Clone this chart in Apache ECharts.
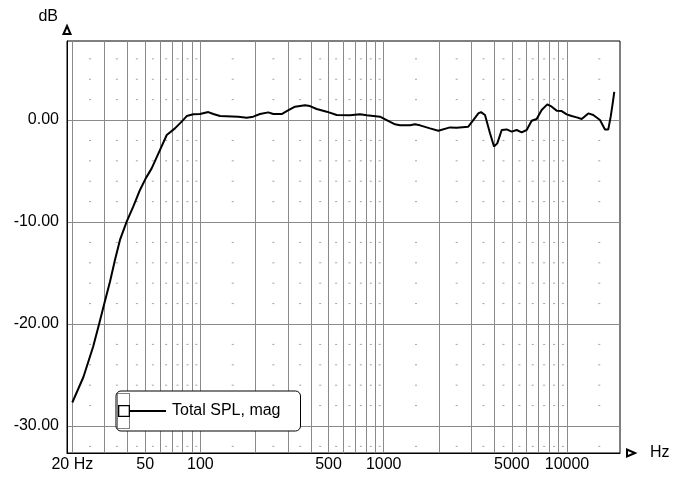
<!DOCTYPE html>
<html>
<head>
<meta charset="utf-8">
<script src="https://cdn.jsdelivr.net/npm/echarts@6/dist/echarts.min.js"></script>
<style>
  html, body { margin: 0; padding: 0; background: #fff; }
  #chart { width: 683px; height: 486px; }
</style>
</head>
<body>
<div id="chart"></div>
<script>
// measured response, frequency in Hz
const freqHz = [
  20, 23, 26, 28.1, 29.9, 32.1, 34.2, 36.4, 39.6, 43, 46.8, 50.3, 54.2, 59.6, 65.5,
  72.6, 79, 84.2, 91.4, 99.5, 110.4, 117.6, 127.9, 160.9, 178.8, 194.2, 211.3, 234.6,
  249.8, 277.7, 295.6, 328, 372, 396, 430.7, 488.7, 553.8, 654.7, 742.4, 807.4, 954.4,
  1038, 1152, 1227, 1391, 1481, 1577, 1789, 1985, 2300, 2501, 2893, 3081, 3282, 3394,
  3569, 3801, 3997, 4165, 4403, 4687, 4990, 5313, 5657, 6024, 6414, 6829, 7274, 7807,
  8251, 8786, 9355, 9960, 10603, 11293, 12025, 13063, 13911, 15131, 16113, 16796,
  17310, 17750, 18109,
];
const splDb = [
  -27.7, -25.2, -22.2, -19.9, -18.0, -15.85, -13.7, -11.76, -9.97, -8.5, -6.86, -5.72,
  -4.74, -3.1, -1.47, -0.82, -0.16, 0.39, 0.56, 0.59, 0.78, 0.59, 0.39, 0.33, 0.23,
  0.33, 0.59, 0.75, 0.59, 0.59, 0.88, 1.31, 1.44, 1.37, 1.08, 0.82, 0.49, 0.46, 0.56,
  0.46, 0.33, 0, -0.42, -0.52, -0.52, -0.42, -0.52, -0.82, -1.05, -0.72, -0.75, -0.65,
  0, 0.65, 0.78, 0.49, -1.3, -2.6, -2.29, -0.98, -0.92, -1.14, -0.98, -1.21, -0.98,
  -0.07, 0.1, 0.98, 1.54, 1.31, 0.92, 0.88, 0.56, 0.39, 0.26, 0.1, 0.65, 0.49, 0,
  -0.92, -0.92, 0.33, 1.63, 2.77,
];

// grid lines / labels of the frequency axis
const gridFreqs = [
  20, 30, 40, 50, 60, 70, 80, 90, 100, 200, 300, 400, 500, 600, 700, 800, 900,
  1000, 2000, 3000, 4000, 5000, 6000, 7000, 8000, 9000, 10000,
];
const labelFreqs = [20, 50, 100, 500, 1000, 5000, 10000];
const labelTexts = ["20 Hz", "50", "100", "500", "1000", "5000", "10000"];

// dotted minor grid
const dotFreqs = [
  25, 35, 45, 55, 65, 75, 85, 95, 150, 250, 350, 450, 550, 650, 750, 850, 950,
  1500, 2500, 3500, 4500, 5500, 6500, 7500, 8500, 9500, 15000,
];
const dotLevels = [-32, -28, -26, -24, -22, -18, -16, -14, -12, -8, -6, -4, -2, 2, 4, 6];

const seriesName = "Total SPL, mag";

const FONT = "Liberation Sans, Arial, sans-serif";
const GRID_GRAY = "#8a8a8a";

const chart = echarts.init(document.getElementById("chart"), null, { renderer: "canvas" });

const curve = freqHz.map((f, i) => [f, splDb[i]]);

const dots = [];
dotLevels.forEach((lv) => {
  dotFreqs.forEach((f) => dots.push([f, lv]));
});

const vLines = gridFreqs.map((f) => {
  const idx = labelFreqs.indexOf(f);
  return {
    xAxis: f,
    label: idx >= 0 ? { show: true, formatter: labelTexts[idx] } : { show: false },
  };
});

// legend icon: hollow square + line
const legendIcon =
  "path://M0,0 L12,0 L12,12 L0,12 Z M1.3,1.3 L1.3,10.7 L10.7,10.7 L10.7,1.3 Z M12,5 L48,5 L48,7 L12,7 Z";

const option = {
  backgroundColor: "#fff",
  animation: false,
  grid: {
    left: 67,
    right: 63,
    top: 41,
    bottom: 33,
    show: true,
    borderColor: "#000",
    borderWidth: 1,
    backgroundColor: "transparent",
  },
  legend: {
    data: [{ name: seriesName, icon: legendIcon }],
    left: 116,
    top: 391,
    orient: "vertical",
    itemWidth: 48,
    itemHeight: 12,
    itemGap: 0,
    padding: [12, 20, 12, 2],
    borderColor: "#000",
    borderWidth: 1,
    borderRadius: 5,
    backgroundColor: "#fff",
    selectedMode: false,
    itemStyle: { color: "#000", borderWidth: 0 },
    textStyle: { color: "#000", fontSize: 16, fontFamily: FONT, padding: [0, 0, 0, 1] },
  },
  xAxis: {
    type: "log",
    min: 18.71,
    max: 19457,
    name: "Hz",
    nameLocation: "end",
    nameGap: 30,
    nameTextStyle: { color: "#000", fontSize: 16, fontFamily: FONT, verticalAlign: "middle" },
    axisLine: {
      show: true,
      onZero: false,
      lineStyle: { color: "#000", width: 1 },
      symbol: ["none", "emptyTriangle"],
      symbolSize: [7, 8],
      symbolOffset: [0, 11],
    },
    axisTick: { show: false },
    axisLabel: { show: false },
    splitLine: { show: false },
  },
  yAxis: {
    type: "value",
    min: -32.65,
    max: 7.75,
    splitNumber: 4,
    name: "dB",
    nameLocation: "end",
    nameGap: 16,
    nameTextStyle: {
      color: "#000",
      fontSize: 16,
      fontFamily: FONT,
      align: "right",
      padding: [0, 9, 0, 0],
    },
    axisLine: {
      show: true,
      onZero: false,
      lineStyle: { color: "#000", width: 1 },
      symbol: ["none", "emptyTriangle"],
      symbolSize: [7, 8],
      symbolOffset: [0, 11],
    },
    axisTick: { show: false },
    axisLabel: {
      color: "#000",
      fontSize: 16,
      fontFamily: FONT,
      margin: 8,
      showMinLabel: false,
      showMaxLabel: false,
      formatter: (v) => v.toFixed(2),
    },
    splitLine: {
      show: true,
      showMinLine: false,
      showMaxLine: false,
      lineStyle: { color: GRID_GRAY, width: 1 },
    },
  },
  graphic: [
    {
      type: "rect",
      shape: { x: 117.5, y: 393.5, width: 12, height: 35 },
      style: { fill: "none", stroke: "#000", lineWidth: 1, lineDash: [1, 1] },
      z: 200,
      silent: true,
    },
  ],
  series: [
    {
      name: "grid",
      type: "scatter",
      silent: true,
      z: 1,
      symbol: "rect",
      symbolSize: [2, 1],
      itemStyle: { color: GRID_GRAY },
      data: dots,
      markLine: {
        silent: true,
        z: 1,
        symbol: "none",
        animation: false,
        lineStyle: { color: GRID_GRAY, width: 1, type: "solid" },
        label: {
          position: "start",
          distance: 4,
          color: "#000",
          fontSize: 16,
          fontFamily: FONT,
        },
        emphasis: { disabled: true },
        data: vLines,
      },
    },
    {
      name: seriesName,
      type: "line",
      z: 3,
      showSymbol: false,
      symbol: "none",
      smooth: false,
      lineStyle: { color: "#000", width: 2 },
      itemStyle: { color: "#000" },
      data: curve,
    },
  ],
};

chart.setOption(option);
</script>
</body>
</html>
